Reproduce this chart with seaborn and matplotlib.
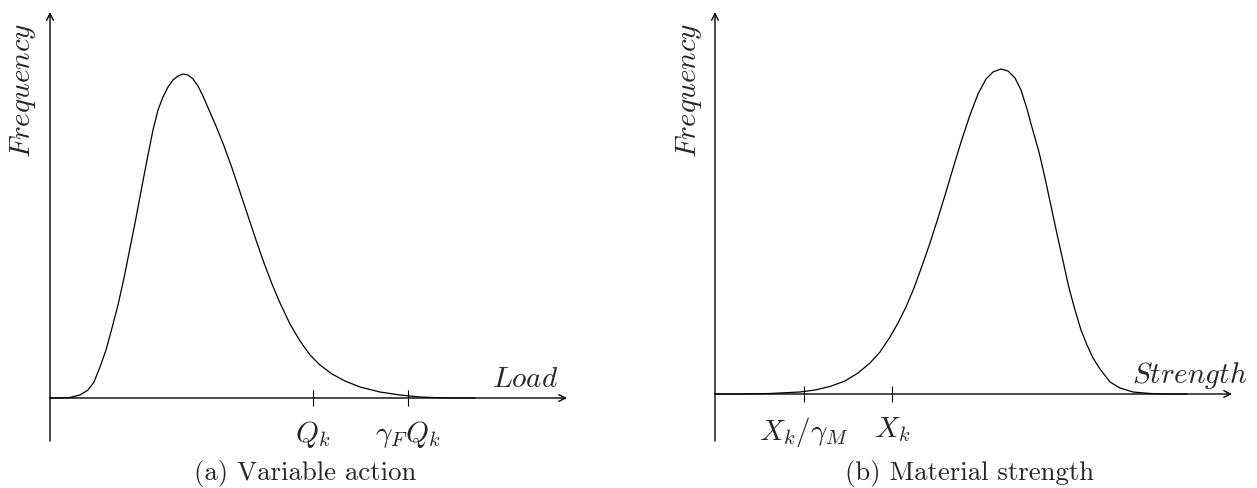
import numpy as np
import pandas as pd
import matplotlib
matplotlib.use("Agg")
import matplotlib.pyplot as plt
import seaborn as sns

# ---------------- data ----------------
# (a) Variable action: load distribution
load_x = [0.00, 0.20, 0.40, 0.60, 0.76, 0.88, 1.00, 1.12, 1.24, 1.36, 1.48, 1.60,
          1.72, 1.84, 1.96, 2.06, 2.16, 2.26, 2.36, 2.46, 2.56, 2.66, 2.76, 2.86,
          2.96, 3.06, 3.18, 3.32, 3.48, 3.64, 3.80, 3.96, 4.12, 4.28, 4.44, 4.60,
          4.80, 5.00, 5.20, 5.40, 5.64, 5.90, 6.20, 6.60, 7.00, 7.40, 7.90, 8.50]
load_y = [0.000, 0.000, 0.013, 0.075, 0.20, 0.40, 0.775, 1.20, 1.75, 2.325, 3.00, 3.75,
          4.50, 5.30, 6.075, 6.70, 7.20, 7.525, 7.775, 7.95, 8.05, 8.10, 8.075, 7.975,
          7.80, 7.55, 7.20, 6.80, 6.30, 5.75, 5.15, 4.55, 3.95, 3.375, 2.85, 2.375,
          1.85, 1.425, 1.075, 0.825, 0.60, 0.425, 0.275, 0.15, 0.075, 0.025, 0.0, 0.0]
load_ticks = [5.26, 7.16]
load_tick_labels = [r"$Q_k$", r"$\gamma_F Q_k$"]

# (b) Material strength distribution
str_x = [0.00, 0.50, 1.10, 1.70, 2.00, 2.30, 2.60, 2.86, 3.10, 3.30, 3.50, 3.66,
         3.82, 3.98, 4.14, 4.30, 4.46, 4.62, 4.78, 4.94, 5.10, 5.26, 5.42, 5.56,
         5.72, 5.86, 6.00, 6.12, 6.24, 6.36, 6.48, 6.60, 6.72, 6.84, 6.96, 7.08,
         7.20, 7.32, 7.44, 7.56, 7.70, 7.90, 8.10, 8.36, 8.70, 9.00, 9.44]
str_y = [0.00, 0.00, 0.0125, 0.05, 0.10, 0.1875, 0.325, 0.525, 0.775, 1.05, 1.425, 1.775,
         2.175, 2.65, 3.20, 3.775, 4.40, 5.05, 5.725, 6.375, 6.975, 7.50, 7.875, 8.05,
         8.125, 8.075, 7.90, 7.60, 7.125, 6.575, 6.05, 5.40, 4.70, 4.00, 3.325, 2.65,
         2.10, 1.60, 1.225, 0.90, 0.625, 0.30, 0.15, 0.05, 0.0125, 0.00, 0.00]
str_ticks = [1.78, 3.54]
str_tick_labels = [r"$X_k/\gamma_M$", r"$X_k$"]

x_labels = [r"$Load$", r"$Strength$"]
y_label = r"$Frequency$"
captions = ["(a) Variable action", "(b) Material strength"]

# ---------------- style ----------------
sns.set_theme(style="white")
plt.rcParams["mathtext.fontset"] = "cm"
plt.rcParams["font.family"] = ["DejaVu Sans"]

W, H = 1257, 488
fig = plt.figure(figsize=(W / 100, H / 100), dpi=100)
fig.patch.set_facecolor("white")

FS_CAP = 19.3
FS_LAB = 21.0
FS_TICK = 21.0
PXU_X, PXU_Y = 50.0, 40.0   # pixels per data unit


def make_axes(x0px, y0px, xlim, ylim):
    left = (x0px + xlim[0] * PXU_X) / W
    width = (xlim[1] - xlim[0]) * PXU_X / W
    top_px = y0px - ylim[1] * PXU_Y
    bot_px = y0px - ylim[0] * PXU_Y
    ax = fig.add_axes([left, (H - bot_px) / H, width, (bot_px - top_px) / H])
    ax.set_xlim(*xlim)
    ax.set_ylim(*ylim)
    ax.patch.set_alpha(0)
    return ax


panels = [
    dict(x0=50, y0=398, x=load_x, y=load_y, ticks=load_ticks, tl=load_tick_labels,
         xl=x_labels[0], ytop=9.65, ybot=-1.075, cap_x=305, fy=7.7),
    dict(x0=715, y0=394, x=str_x, y=str_y, ticks=str_ticks, tl=str_tick_labels,
         xl=x_labels[1], ytop=9.55, ybot=-1.175, cap_x=970, fy=7.6),
]

for p in panels:
    ax = make_axes(p["x0"], p["y0"], (-1.0, 10.8), (-1.9, 9.8))
    df = pd.DataFrame({"x": p["x"], "y": p["y"]})
    sns.lineplot(data=df, x="x", y="y", ax=ax, color="black", lw=0.9, sort=False)
    ax.set_xlabel("")
    ax.set_ylabel("")

    for s in ax.spines.values():
        s.set_visible(False)
    ax.spines["bottom"].set_position(("data", 0))
    ax.set_yticks([])
    ax.set_xticks(p["ticks"], labels=p["tl"])
    ax.tick_params(axis="x", direction="inout", length=12, width=0.8,
                   color="black", pad=9, labelsize=FS_TICK, bottom=True)

    arrow = dict(arrowstyle="->", lw=1.0, color="black", shrinkA=0, shrinkB=0,
                 mutation_scale=12)
    ax.annotate("", xy=(10.34, 0), xytext=(0, 0), arrowprops=arrow,
                annotation_clip=False)
    ax.annotate("", xy=(0, p["ytop"]), xytext=(0, p["ybot"]), arrowprops=arrow,
                annotation_clip=False)

    ax.text(9.5, 0.275, p["xl"], ha="center", va="baseline", fontsize=FS_LAB)
    ax.text(-0.39, p["fy"], y_label, rotation=90, rotation_mode="anchor",
            ha="center", va="baseline", fontsize=FS_LAB)

for p, cap in zip(panels, captions):
    fig.text(p["cap_x"] / W, (H - 480) / H, cap, ha="center", va="baseline",
             fontsize=FS_CAP, family="cmr10")

fig.savefig("out.png", dpi=100, facecolor="white")
